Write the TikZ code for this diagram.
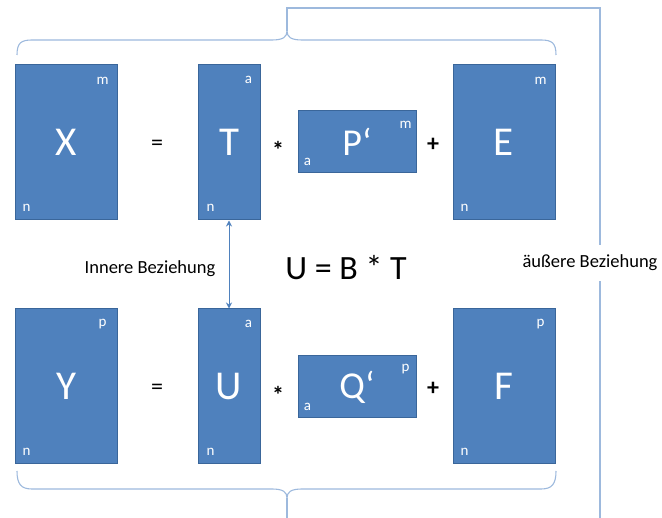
\documentclass[tikz,border=0pt]{standalone}
\usepackage{fontspec}
\setmainfont{Carlito}
\usetikzlibrary{arrows.meta}
\definecolor{boxblue}{HTML}{4F81BD}
\definecolor{boxedge}{HTML}{3A669A}
\definecolor{bracec}{HTML}{9DB9DD}
\begin{document}
\begin{tikzpicture}[x=1pt,y=-1pt,
  mat/.style={draw=boxedge,fill=boxblue,line width=1pt,inner sep=0pt,text=white,font=\fontsize{41}{41}\selectfont},
  tall/.style={mat,minimum width=102pt,minimum height=155pt},
  thin/.style={mat,minimum width=62pt,minimum height=155pt},
  flat/.style={mat,minimum width=118pt,minimum height=62pt,font=\fontsize{38}{38}\selectfont},
  dimlab/.style={text=white,font=\fontsize{15}{15}\selectfont,inner sep=0pt},
  op/.style={font=\fontsize{24}{24}\selectfont\bfseries,inner sep=0pt},
  brace/.style={draw=bracec,line width=1.1pt},
  rel/.style={font=\fontsize{18.5}{18.5}\selectfont,inner sep=0pt}
]
\useasboundingbox (0,0) rectangle (662,518);
% braces
\draw[brace] (17,55) .. controls (17,43) and (21,40) .. (32,40) -- (272,40)
  .. controls (283,40) and (287,37) .. (287,31)
  .. controls (287,37) and (291,40) .. (302,40) -- (541,40)
  .. controls (552,40) and (556,43) .. (556,55);
\draw[brace] (17,471) .. controls (17,484) and (21,489) .. (32,489) -- (272,489)
  .. controls (283,489) and (287,492) .. (287,498)
  .. controls (287,492) and (291,489) .. (302,489) -- (541,489)
  .. controls (552,489) and (556,484) .. (556,471);
\draw[brace] (287,498) -- (287,518);
\draw[brace] (287,31) -- (287,8) -- (600,8) -- (600,518);
\node[rel,fill=white,inner xsep=2pt,inner ysep=10pt] (outer) at (590,263) {äußere Beziehung};
% top row
\node[tall] (X) at (66,142.5) {X};
\node[thin] (T) at (229,142.5) {T};
\node[flat] (P) at (357,142) {P‘};
\node[tall] (E) at (504,142.5) {E};
% bottom row
\node[tall] (Y) at (66,386.5) {Y};
\node[thin] (U) at (229,386.5) {U};
\node[flat] (Q) at (357,387) {Q‘};
\node[tall] (F) at (504,386.5) {F};
% dimension labels
\foreach \b/\t in {X/m,E/m,Y/p,F/p}{
  \node[dimlab] at ([shift={(-15,16)}]\b.north east) {\t};
  \node[dimlab] at ([shift={(12,-13)}]\b.south west) {n};
}
\foreach \b in {T,U}{
  \node[dimlab] at ([shift={(-12,15)}]\b.north east) {a};
  \node[dimlab] at ([shift={(13,-13)}]\b.south west) {n};
}
\node[dimlab] at ([shift={(-11,14)}]P.north east) {m};
\node[dimlab] at ([shift={(10,-12)}]P.south west) {a};
\node[dimlab] at ([shift={(-11,14)}]Q.north east) {p};
\node[dimlab] at ([shift={(10,-12)}]Q.south west) {a};
% operators
\node[op,font=\fontsize{24}{24}\selectfont] (eq1) at (157,145) {=};
\node[op] (st1) at (278,150) {*};
\node[op] (pl1) at (433,145) {+};
\node[op,font=\fontsize{24}{24}\selectfont] (eq2) at (157,389) {=};
\node[op] (st2) at (278,395) {*};
\node[op] (pl2) at (433,389) {+};
% relations
\draw[draw=boxblue,line width=1pt,{Stealth[length=6pt,width=6pt]}-{Stealth[length=6pt,width=6pt]}] (T.south) -- (U.north);
\node[rel] (inner) at (150,269) {Innere Beziehung};
\node[inner sep=0pt,font=\fontsize{34}{34}\selectfont] (ubt) at (346,268) {U = B * T};
\end{tikzpicture}
\end{document}
